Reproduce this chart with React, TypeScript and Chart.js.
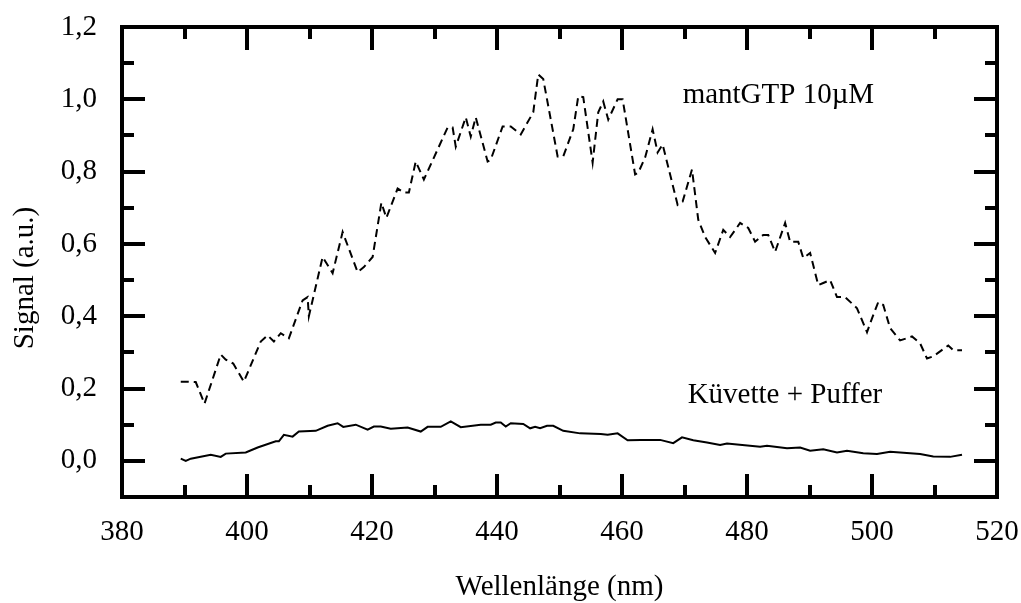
import React, { useEffect, useRef } from "react";
import { Chart, registerables } from "chart.js";

Chart.register(...registerables);

// mantGTP 10µM (dashed)
const mantWavelengths = [
  389.4, 390.5, 391.8, 393.2, 395.8, 396.6, 397.8, 399.5, 402.2, 403.3, 404.3, 405.4, 406.7,
  408.9, 409.7, 409.9, 412.1, 413.7, 415.3, 417.7, 418.7, 420.1, 421.5, 422.3, 424.1, 425.1,
  425.9, 427.0, 428.3, 432.1, 432.9, 433.4, 435.0, 435.8, 436.6, 438.5, 439.0, 440.9, 442.2,
  443.8, 445.8, 446.6, 447.4, 449.7, 450.6, 452.2, 453.0, 453.8, 455.3, 456.2, 457.0, 457.8,
  459.3, 460.1, 462.1, 462.6, 463.7, 464.9, 465.7, 466.5, 467.7, 468.9, 469.7, 471.2, 472.2,
  473.3, 474.9, 476.2, 477.3, 478.9, 480.2, 481.3, 482.6, 483.4, 484.5, 486.1, 486.9, 488.2,
  489.0, 490.1, 491.4, 492.2, 493.3, 494.4, 495.7, 497.6, 499.2, 500.0, 501.0, 501.8, 502.9,
  504.5, 506.4, 507.7, 508.8, 509.8, 512.2, 513.0, 514.4,
];
const mantSignal = [
  0.219, 0.219, 0.218, 0.158, 0.294, 0.28, 0.269, 0.219, 0.33, 0.347, 0.33, 0.353, 0.339,
  0.444, 0.453, 0.4, 0.564, 0.519, 0.633, 0.522, 0.536, 0.564, 0.714, 0.672, 0.753, 0.742,
  0.742, 0.828, 0.778, 0.922, 0.922, 0.869, 0.95, 0.897, 0.95, 0.828, 0.833, 0.925, 0.925,
  0.903, 0.964, 1.069, 1.056, 0.842, 0.842, 0.917, 1.008, 1.006, 0.825, 0.964, 0.994, 0.944,
  1.0, 1.0, 0.792, 0.797, 0.839, 0.917, 0.853, 0.875, 0.792, 0.708, 0.717, 0.806, 0.667,
  0.619, 0.575, 0.639, 0.619, 0.658, 0.644, 0.606, 0.625, 0.625, 0.578, 0.658, 0.606, 0.606,
  0.561, 0.575, 0.486, 0.492, 0.5, 0.453, 0.453, 0.422, 0.356, 0.394, 0.439, 0.431, 0.367,
  0.333, 0.344, 0.325, 0.283, 0.289, 0.319, 0.306, 0.306,
];

// Küvette + Puffer (solid)
const bufferWavelengths = [
  389.4, 390.2, 391.0, 394.2, 395.8, 396.6, 399.8, 401.7, 404.6, 405.1, 405.9, 407.3, 408.3,
  411.0, 412.9, 414.5, 415.4, 417.4, 419.3, 420.3, 421.4, 423.0, 425.7, 427.8, 428.9, 431.0,
  432.6, 434.2, 437.4, 439.0, 439.8, 440.6, 441.4, 442.2, 444.2, 445.3, 446.1, 446.9, 448.0,
  449.0, 450.6, 453.3, 456.6, 457.7, 459.3, 460.9, 463.0, 466.1, 468.2, 469.6, 471.4, 473.6,
  475.7, 476.8, 482.1, 483.2, 486.4, 488.5, 490.1, 492.2, 494.4, 496.0, 498.6, 500.8, 502.9,
  506.1, 507.7, 509.8, 512.5, 514.4,
];
const bufferSignal = [
  0.006, 0.0, 0.006, 0.017, 0.011, 0.02, 0.023, 0.037, 0.054, 0.054, 0.072, 0.067, 0.081,
  0.083, 0.097, 0.104, 0.094, 0.1, 0.086, 0.095, 0.095, 0.089, 0.092, 0.081, 0.094, 0.094,
  0.109, 0.093, 0.1, 0.1, 0.106, 0.106, 0.095, 0.104, 0.102, 0.09, 0.094, 0.09, 0.097,
  0.097, 0.083, 0.076, 0.074, 0.072, 0.076, 0.057, 0.058, 0.058, 0.049, 0.065, 0.057, 0.051,
  0.044, 0.048, 0.039, 0.042, 0.035, 0.037, 0.028, 0.032, 0.023, 0.028, 0.021, 0.019, 0.025,
  0.021, 0.019, 0.012, 0.011, 0.017,
];

const xTitle = "Wellenlänge (nm)";
const yTitle = "Signal (a.u.)";
const labelMant = "mantGTP 10µM";
const labelBuffer = "Küvette + Puffer";

const FONT = '"Liberation Serif", "Times New Roman", Times, serif';
const FS = 29;

const frame = {
  id: "frame",
  afterDraw(chart: any) {
    const ctx = chart.ctx as CanvasRenderingContext2D;
    const { left, right, top, bottom } = chart.chartArea;
    const xs = chart.scales.x;
    const ys = chart.scales.y;
    ctx.save();
    ctx.strokeStyle = "#000";
    ctx.lineWidth = 4;
    ctx.lineCap = "butt";
    ctx.beginPath();
    for (const t of xs.ticks) {
      const v = t.value;
      const major = Math.round(v / 10) % 2 === 0;
      const len = major ? 23 : 12;
      const px = Math.round(xs.getPixelForValue(v));
      ctx.moveTo(px, bottom);
      ctx.lineTo(px, bottom - len);
      ctx.moveTo(px, top);
      ctx.lineTo(px, top + len);
    }
    for (const t of ys.ticks) {
      const v = t.value;
      const major = Math.round(v * 10) % 2 === 0;
      const len = major ? 23 : 12;
      const py = Math.round(ys.getPixelForValue(v));
      ctx.moveTo(left, py);
      ctx.lineTo(left + len, py);
      ctx.moveTo(right, py);
      ctx.lineTo(right - len, py);
    }
    ctx.stroke();
    ctx.lineJoin = "miter";
    ctx.strokeRect(left, top, right - left, bottom - top);

    ctx.fillStyle = "#000";
    ctx.font = `${FS}px ${FONT}`;
    ctx.textBaseline = "middle";
    ctx.textAlign = "left";
    ctx.fillText(labelMant, xs.getPixelForValue(469.7), ys.getPixelForValue(1.01));
    ctx.fillText(labelBuffer, xs.getPixelForValue(470.5), ys.getPixelForValue(0.18));

    ctx.translate(25, 278);
    ctx.rotate(-Math.PI / 2);
    ctx.textAlign = "center";
    ctx.fillText(yTitle, 0, 0);
    ctx.restore();
  },
};

export default function App() {
  const ref = useRef<HTMLCanvasElement | null>(null);
  useEffect(() => {
    if (!ref.current) return;
    const chart = new Chart(ref.current, {
      type: "line",
      data: {
        datasets: [
          {
            label: labelMant,
            data: mantWavelengths.map((x, i) => ({ x, y: mantSignal[i] })),
            borderColor: "#000",
            borderWidth: 2,
            borderDash: [8, 5],
            pointRadius: 0,
            tension: 0,
            fill: false,
          },
          {
            label: labelBuffer,
            data: bufferWavelengths.map((x, i) => ({ x, y: bufferSignal[i] })),
            borderColor: "#000",
            borderWidth: 2,
            pointRadius: 0,
            tension: 0,
            fill: false,
          },
        ],
      },
      options: {
        responsive: false,
        animation: false,
        layout: { padding: { top: 27, right: 24, left: 0, bottom: 0 } },
        plugins: { legend: { display: false }, tooltip: { enabled: false } },
        scales: {
          x: {
            type: "linear",
            min: 380,
            max: 520,
            grid: { display: false, drawTicks: false },
            border: { display: false },
            ticks: {
              stepSize: 10,
              autoSkip: false,
              maxRotation: 0,
              padding: 18,
              color: "#000",
              font: { family: FONT, size: FS },
              callback: (v: any) => (Math.round(v / 10) % 2 === 0 ? String(Math.round(v)) : ""),
            },
            title: {
              display: true,
              text: xTitle,
              color: "#000",
              font: { family: FONT, size: FS, lineHeight: 1 },
              padding: { top: 0, bottom: 1 },
            },
            afterFit: (s: any) => {
              s.height = 106;
              s.paddingLeft = 0;
              s.paddingRight = 0;
            },
          },
          y: {
            type: "linear",
            min: -0.1,
            max: 1.2,
            grid: { display: false, drawTicks: false },
            border: { display: false },
            ticks: {
              stepSize: 0.1,
              autoSkip: false,
              padding: 25,
              color: "#000",
              font: { family: FONT, size: FS },
              callback: (v: any) => {
                const k = Math.round(v * 10);
                if (k < 0 || k % 2 !== 0) return "";
                return (k / 10).toFixed(1).replace(".", ",");
              },
            },
            afterFit: (s: any) => {
              s.width = 122;
              s.paddingTop = 0;
              s.paddingBottom = 0;
            },
          },
        },
      },
      plugins: [frame],
    });
    return () => chart.destroy();
  }, []);
  return (
    <div style={{ position: "fixed", left: 0, top: 0, width: 1021, height: 603, background: "#fff" }}>
      <canvas ref={ref} width={1021} height={603} />
    </div>
  );
}
